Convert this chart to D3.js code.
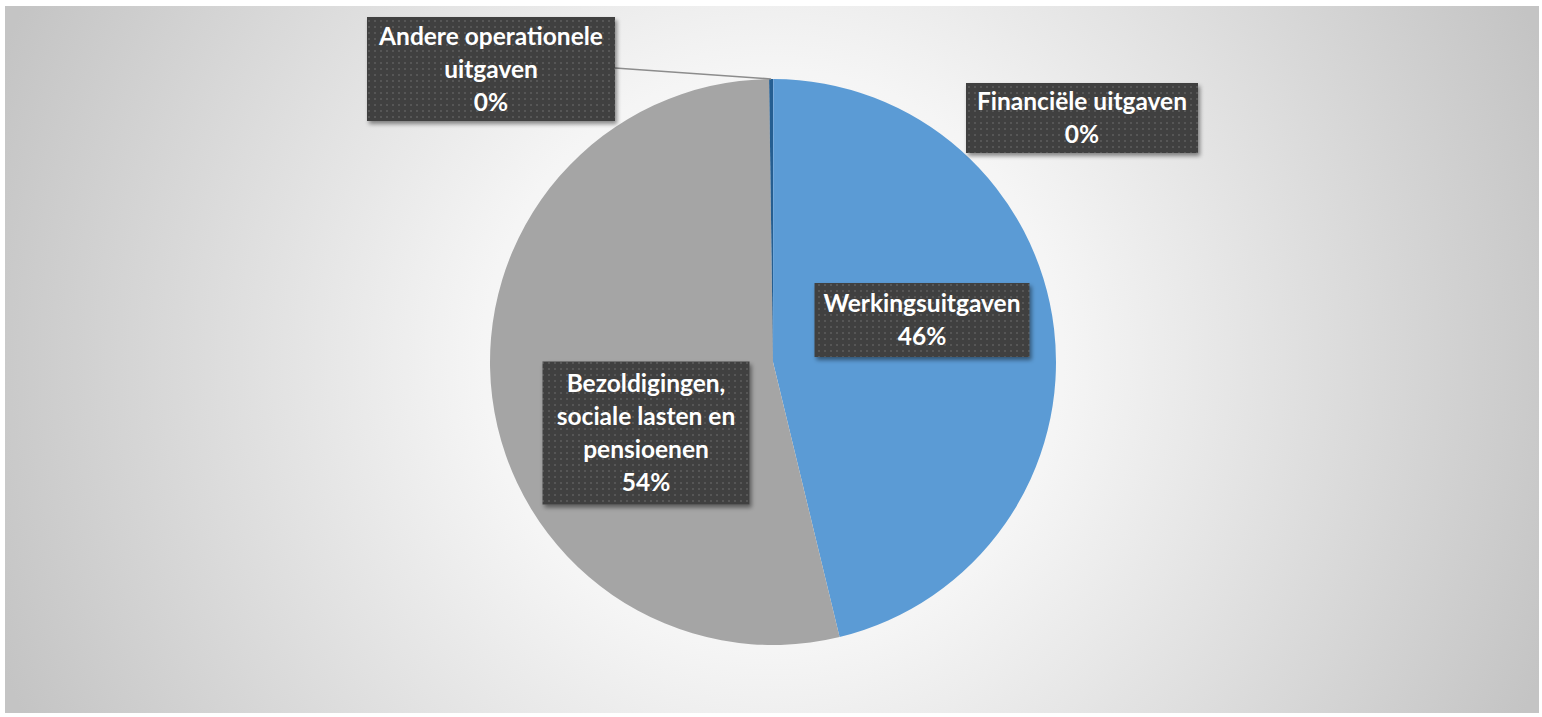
<!DOCTYPE html>
<html>
<head>
<meta charset="utf-8">
<script src="https://cdn.jsdelivr.net/npm/d3@7"></script>
<style>
  body { margin: 0; background: #fff; }
  svg { display: block; }
</style>
</head>
<body>
<div id="chart"></div>
<script>
// chart data
var categories = ["Financiële uitgaven", "Werkingsuitgaven", "Bezoldigingen, sociale lasten en pensioenen", "Andere operationele uitgaven"];
var values = [0.02, 46.2, 53.56, 0.22];
var pctLabels = ["0%", "46%", "54%", "0%"];
var labelLines = [["Financiële uitgaven"], ["Werkingsuitgaven"], ["Bezoldigingen,", "sociale lasten en", "pensioenen"], ["Andere operationele", "uitgaven"]];
var colors = ["#4472c4", "#5b9bd5", "#a5a5a5", "#255e91"];

var svgWidth = 1542;
var svgHeight = 717;

var svg = d3.select("#chart")
    .append("svg")
    .attr("width", svgWidth)
    .attr("height", svgHeight);

var defs = svg.append("defs");

var grad = defs.append("radialGradient")
    .attr("id", "bg")
    .attr("gradientUnits", "userSpaceOnUse")
    .attr("cx", 773).attr("cy", 360).attr("r", 830);
grad.append("stop").attr("offset", "0").attr("stop-color", "#ffffff");
grad.append("stop").attr("offset", "0.35").attr("stop-color", "#f5f5f5");
grad.append("stop").attr("offset", "1").attr("stop-color", "#c4c4c4");

var pat = defs.append("pattern")
    .attr("id", "dots")
    .attr("patternUnits", "userSpaceOnUse")
    .attr("width", 6).attr("height", 6);
pat.append("rect").attr("width", 6).attr("height", 6).attr("fill", "#404040");
pat.append("rect").attr("x", 2).attr("y", 2).attr("width", 2).attr("height", 2).attr("fill", "#575757");

var shadow = defs.append("filter").attr("id", "shadow")
    .attr("x", "-10%").attr("y", "-10%").attr("width", "130%").attr("height", "140%");
shadow.append("feDropShadow")
    .attr("dx", 2).attr("dy", 3).attr("stdDeviation", 2)
    .attr("flood-color", "#000").attr("flood-opacity", 0.45);

// chart area
svg.append("rect")
    .attr("x", 5).attr("y", 6)
    .attr("width", 1534).attr("height", 707)
    .attr("fill", "url(#bg)");

var cx = 773, cy = 362, radius = 283;

var pie = d3.pie().sort(null).value(d => d);
var arc = d3.arc().innerRadius(0).outerRadius(radius);

var pieGroup = svg.append("g")
    .attr("transform", `translate(${cx},${cy})`);

var arcs = pie(values);

pieGroup.selectAll("path")
    .data(arcs)
    .enter()
    .append("path")
    .attr("d", arc)
    .attr("fill", (d, i) => colors[i]);

// label boxes (x, y = centre of box)
var boxes = [
    { x: 1082, y: 118, w: 232, h: 70 },
    { x: 922, y: 320, w: 215, h: 74 },
    { x: 646, y: 433, w: 207, h: 143 },
    { x: 491, y: 69, w: 248, h: 104 }
];

// leader line for the small slice on the left
var lead = arcs[3];
var leadAngle = (lead.startAngle + lead.endAngle) / 2;
svg.append("polyline")
    .attr("points", [
        [boxes[3].x + boxes[3].w / 2, 68],
        [cx + radius * Math.sin(leadAngle), cy - radius * Math.cos(leadAngle)]
    ].map(p => p.join(",")).join(" "))
    .attr("fill", "none")
    .attr("stroke", "#8c8c8c")
    .attr("stroke-width", 1.5);

var lineH = 33;
var labels = svg.append("g").selectAll("g")
    .data(categories)
    .enter()
    .append("g");

labels.append("rect")
    .attr("x", (d, i) => boxes[i].x - boxes[i].w / 2)
    .attr("y", (d, i) => boxes[i].y - boxes[i].h / 2)
    .attr("width", (d, i) => boxes[i].w)
    .attr("height", (d, i) => boxes[i].h)
    .attr("fill", "url(#dots)")
    .attr("filter", "url(#shadow)");

labels.each(function(d, i) {
    var lines = labelLines[i].concat([pctLabels[i]]);
    var top = boxes[i].y - (lines.length * lineH) / 2;
    d3.select(this).selectAll("text")
        .data(lines)
        .enter()
        .append("text")
        .text(t => t)
        .attr("x", boxes[i].x)
        .attr("y", (t, j) => top + j * lineH + 25)
        .attr("text-anchor", "middle")
        .attr("font-family", "Lato, 'Open Sans', sans-serif")
        .attr("font-weight", "bold")
        .attr("font-size", "24.5px")
        .attr("fill", "#ffffff");
});
</script>
</body>
</html>
